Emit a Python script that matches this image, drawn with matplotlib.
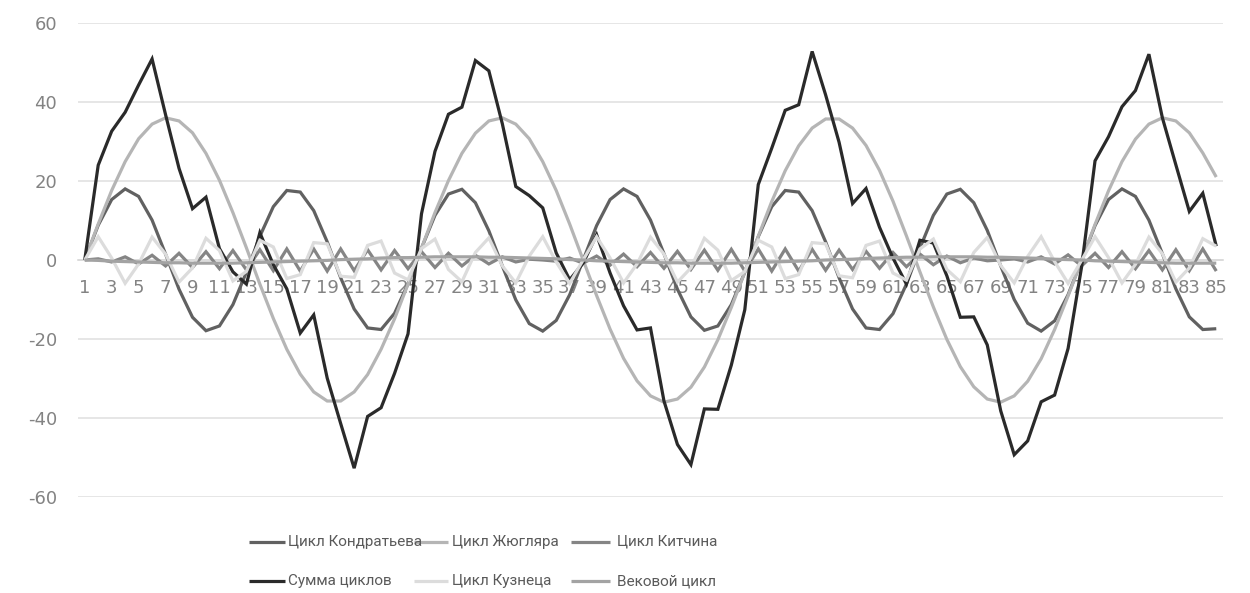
import matplotlib
matplotlib.use("Agg")
import matplotlib.pyplot as plt
from matplotlib.lines import Line2D
from matplotlib import font_manager
import numpy as np

plt.rcParams["axes.unicode_minus"] = False

# Period index on the category axis
periods = list(range(1, 86))
tick_labels = [str(p) for p in periods[::2]]

# Individual cycles, one value per period
kondratiev = [
    0, 8.8, 15.3, 18.0, 16.1, 10.1, 1.5, -7.4, -14.5, -17.9,
    -16.7, -11.3, -3.1, 6.0, 13.5, 17.6, 17.2, 12.5, 4.6, -4.5,
    -12.4, -17.2, -17.6, -13.5, -6.0, 3.0, 11.3, 16.7, 17.9, 14.5,
    7.4, -1.5, -10.1, -16.1, -18.0, -15.3, -8.8, 0.0, 8.7, 15.3,
    18.0, 16.1, 10.1, 1.6, -7.4, -14.4, -17.8, -16.7, -11.3, -3.1,
    5.9, 13.5, 17.6, 17.2, 12.5, 4.6, -4.5, -12.4, -17.2, -17.6,
    -13.6, -6.1, 3.0, 11.3, 16.7, 17.9, 14.5, 7.5, -1.5, -10.0,
    -16.0, -18.0, -15.4, -8.8, -0.1, 8.7, 15.3, 18.0, 16.1, 10.1,
    1.6, -7.3, -14.4, -17.6, -17.4,
]
juglar = [
    0, 9.1, 17.6, 24.9, 30.7, 34.4, 36.0, 35.2, 32.2, 27.0,
    20.2, 12.0, 3.1, -6.1, -14.8, -22.6, -28.9, -33.4, -35.7, -35.7,
    -33.4, -29.0, -22.6, -14.9, -6.1, 3.0, 12.0, 20.1, 27.0, 32.1,
    35.2, 36.0, 34.4, 30.7, 24.9, 17.6, 9.1, 0.0, -9.0, -17.5,
    -24.9, -30.6, -34.4, -36.0, -35.2, -32.2, -27.1, -20.2, -12.0, -3.1,
    6.0, 14.8, 22.6, 28.9, 33.4, 35.7, 35.7, 33.4, 29.0, 22.7,
    14.9, 6.1, -3.0, -11.9, -20.1, -27.0, -32.1, -35.2, -36.0, -34.4,
    -30.7, -25.0, -17.6, -9.1, -0.1, 9.0, 17.5, 24.9, 30.6, 34.4,
    36.0, 35.2, 32.2, 27.1, 21.0,
]
kitchin = [
    0, 0.3, -0.5, 0.8, -1.0, 1.2, -1.5, 1.7, -1.9, 2.1,
    -2.2, 2.4, -2.5, 2.6, -2.7, 2.8, -2.8, 2.8, -2.8, 2.8,
    -2.7, 2.6, -2.5, 2.4, -2.2, 2.1, -1.9, 1.7, -1.5, 1.2,
    -1.0, 0.8, -0.5, 0.2, 0.0, -0.3, 0.5, -0.8, 1.0, -1.3,
    1.5, -1.7, 1.9, -2.1, 2.2, -2.4, 2.5, -2.6, 2.7, -2.8,
    2.8, -2.8, 2.8, -2.8, 2.7, -2.6, 2.5, -2.4, 2.2, -2.1,
    1.9, -1.7, 1.5, -1.2, 1.0, -0.7, 0.5, -0.2, 0.0, 0.3,
    -0.5, 0.8, -1.0, 1.3, -1.5, 1.7, -1.9, 2.1, -2.2, 2.4,
    -2.5, 2.6, -2.7, 2.8, -2.8,
]
kuznets = [
    0, 5.9, 0.5, -5.9, -1.0, 5.8, 1.5, -5.6, -2.0, 5.5,
    2.4, -5.3, -2.9, 5.0, 3.3, -4.7, -3.7, 4.4, 4.1, -4.1,
    -4.4, 3.7, 4.8, -3.3, -5.0, 2.9, 5.3, -2.4, -5.5, 1.9,
    5.6, -1.5, -5.8, 1.0, 5.9, -0.5, -5.9, 0.0, 5.9, 0.5,
    -5.8, -1.0, 5.8, 1.5, -5.6, -2.0, 5.5, 2.5, -5.2, -2.9,
    5.0, 3.3, -4.7, -3.7, 4.4, 4.1, -4.0, -4.5, 3.7, 4.8,
    -3.3, -5.1, 2.8, 5.3, -2.4, -5.5, 1.9, 5.7, -1.4, -5.8,
    0.9, 5.9, -0.4, -5.9, -0.1, 5.9, 0.6, -5.8, -1.1, 5.8,
    1.6, -5.6, -2.0, 5.4, 3.5,
]
secular = [
    0, -0.1, -0.3, -0.4, -0.5, -0.6, -0.7, -0.7, -0.8, -0.8,
    -0.8, -0.8, -0.7, -0.6, -0.5, -0.4, -0.3, -0.2, -0.1, 0.1,
    0.2, 0.3, 0.5, 0.6, 0.6, 0.7, 0.8, 0.8, 0.8, 0.8,
    0.7, 0.7, 0.6, 0.5, 0.4, 0.3, 0.1, 0.0, -0.2, -0.3,
    -0.4, -0.5, -0.6, -0.7, -0.7, -0.8, -0.8, -0.8, -0.8, -0.7,
    -0.6, -0.5, -0.4, -0.3, -0.2, 0.0, 0.1, 0.2, 0.4, 0.5,
    0.6, 0.7, 0.7, 0.8, 0.8, 0.8, 0.8, 0.7, 0.7, 0.6,
    0.5, 0.4, 0.2, 0.1, 0.0, -0.2, -0.3, -0.4, -0.5, -0.6,
    -0.7, -0.8, -0.8, -0.8, -0.8,
]

# The total is the sum of all cycles
cycle_sum = np.sum([kondratiev, juglar, kitchin, kuznets, secular], axis=0)

series = [
    ("Цикл Кондратьева", kondratiev, "#616161"),
    ("Цикл Жюгляра", juglar, "#b5b5b5"),
    ("Цикл Китчина", kitchin, "#858585"),
    ("Сумма циклов", cycle_sum, "#2a2a2a"),
    ("Цикл Кузнеца", kuznets, "#dcdcdc"),
    ("Вековой цикл", secular, "#a3a3a3"),
]


def pick_family(candidates):
    for name, size in candidates:
        try:
            font_manager.findfont(name, fallback_to_default=False)
            return name, size
        except ValueError:
            continue
    return "DejaVu Sans", 10.5


legend_family, legend_size = pick_family([
    ("Liberation Sans Narrow", 12.5),
    ("DejaVu Sans Condensed", 11.0),
    ("Roboto", 11.0),
])

W, H = 1250, 593
fig = plt.figure(figsize=(W / 100, H / 100), dpi=100)
fig.patch.set_facecolor("white")
ax = fig.add_axes([78 / W, 1 - 497 / H, (1223 - 78) / W, (497 - 23) / H])

for z, (label, values, color) in enumerate(series):
    ax.plot(periods, values, color=color, lw=2.3, solid_joinstyle="miter",
            solid_capstyle="butt", zorder=3 + z)

ax.set_xlim(0.5, 85.5)
ax.set_ylim(-60, 60)
ax.set_yticks(range(-60, 61, 20))
ax.set_xticks(periods[::2])
ax.set_xticklabels(tick_labels)

ax.grid(axis="y", color="#e2e2e2", lw=1.2, zorder=0)
ax.set_axisbelow(True)
for side in ("top", "right", "left"):
    ax.spines[side].set_visible(False)
ax.spines["bottom"].set_position(("data", 0))
ax.spines["bottom"].set_color("#d9d9d9")
ax.spines["bottom"].set_linewidth(1.2)
ax.spines["bottom"].set_zorder(1)

ax.tick_params(axis="y", length=0, pad=15, labelsize=13, labelcolor="#838383")
ax.tick_params(axis="x", length=0, pad=14, labelsize=13, labelcolor="#838383")

# Legend laid out in two rows of three entries
cols = [(249, 285, 288), (414, 448, 452), (571, 610, 617)]
rows = [542, 581]
for i, (label, values, color) in enumerate(series):
    r, c = divmod(i, 3)
    x0, x1, xt = cols[c]
    y = 1 - rows[r] / H
    fig.add_artist(Line2D([x0 / W, x1 / W], [y, y], transform=fig.transFigure,
                          color=color, lw=2.3, solid_capstyle="butt"))
    fig.text(xt / W, y, label, ha="left", va="center", fontsize=legend_size,
             family=legend_family, color="#5a5a5a")

fig.savefig("out.png", dpi=100, facecolor="white")
